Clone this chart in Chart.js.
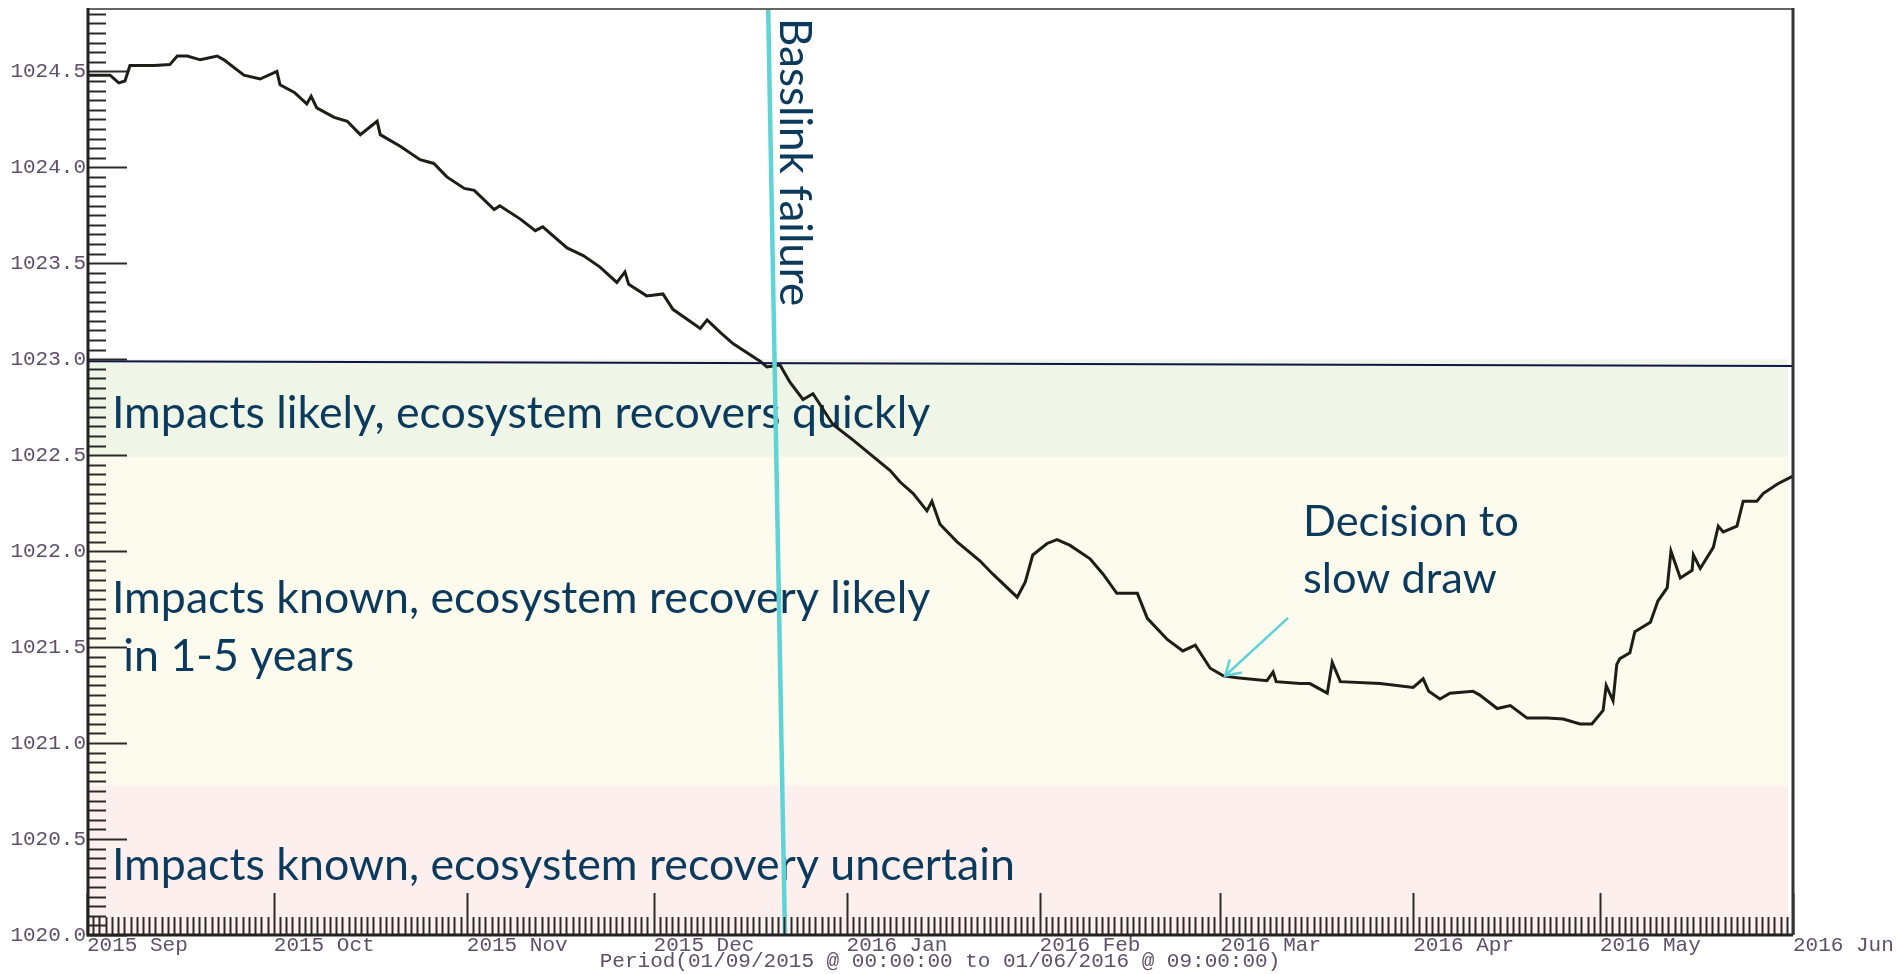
<!DOCTYPE html>
<html>
<head>
<meta charset="utf-8">
<title>Storage level 2015-2016</title>
<script src="https://cdn.jsdelivr.net/npm/chart.js@4.4.0/dist/chart.umd.min.js"></script>
<style>
  html, body { margin: 0; padding: 0; background: #fff; }
  canvas { display: block; }
</style>
</head>
<body>
<canvas id="levelChart" width="1901" height="974"></canvas>
<script>
// days since 01/09/2015 00:00 and lake level (m)
const dayOffsets = [
  0, 3.7, 5.1, 6.1, 6.9, 10.8, 13.3, 14.5, 16.1, 18.2,
  20.9, 22.0, 25.2, 27.8, 30.5, 31.0, 33.3, 35.3, 36.0, 36.9,
  39.7, 41.8, 43.9, 46.6, 47.1, 50.3, 53.5, 55.7, 57.8, 60.6,
  62.2, 65.4, 66.3, 69.6, 72.0, 73.2, 77.1, 79.7, 82.4, 85.1,
  86.4, 87.0, 89.9, 92.5, 94.1, 98.5, 99.6, 101.7, 103.8, 108.1,
  109.2, 111.3, 112.9, 115.0, 116.6, 119.8, 123.0, 129.0, 130.6, 132.7,
  134.9, 135.7, 137.0, 139.7, 143.4, 145.5, 149.4, 150.7, 151.9, 154.2,
  155.8, 157.9, 161.1, 163.2, 165.4, 168.7, 170.3, 173.5, 176.0, 178.0,
  180.4, 182.5, 184.7, 189.5, 190.5, 191.0, 194.8, 196.4, 199.2, 200.0,
  201.3, 207.7, 213.0, 214.6, 215.5, 217.3, 218.9, 222.6, 223.7, 226.5,
  228.6, 231.3, 234.5, 237.1, 239.8, 241.7, 243.5, 244.0, 245.1, 245.7,
  246.2, 247.8, 248.6, 251.1, 252.3, 253.8, 254.4, 255.9, 257.8, 258.0,
  259.1, 261.2, 262.0, 262.8, 265.0, 266.0, 268.2, 269.2, 271.5, 273.9
];
const levels = [
  1024.48, 1024.48, 1024.44, 1024.45, 1024.53, 1024.53, 1024.535, 1024.58, 1024.58, 1024.56,
  1024.58, 1024.56, 1024.48, 1024.46, 1024.50, 1024.43, 1024.39, 1024.33, 1024.37, 1024.31,
  1024.26, 1024.24, 1024.17, 1024.24, 1024.17, 1024.11, 1024.04, 1024.02, 1023.95, 1023.89,
  1023.88, 1023.78, 1023.80, 1023.73, 1023.67, 1023.69, 1023.58, 1023.54, 1023.48, 1023.40,
  1023.455, 1023.39, 1023.33, 1023.34, 1023.26, 1023.16, 1023.205, 1023.14, 1023.08, 1022.99,
  1022.96, 1022.97, 1022.88, 1022.79, 1022.82, 1022.66, 1022.58, 1022.42, 1022.36, 1022.30,
  1022.21, 1022.26, 1022.14, 1022.05, 1021.95, 1021.88, 1021.76, 1021.84, 1021.98, 1022.04,
  1022.06, 1022.03, 1021.96, 1021.88, 1021.78, 1021.78, 1021.65, 1021.54, 1021.48, 1021.51,
  1021.39, 1021.35, 1021.34, 1021.325, 1021.37, 1021.32, 1021.31, 1021.31, 1021.26, 1021.42,
  1021.32, 1021.31, 1021.29, 1021.335, 1021.27, 1021.23, 1021.26, 1021.27, 1021.25, 1021.18,
  1021.195, 1021.13, 1021.13, 1021.125, 1021.10, 1021.10, 1021.17, 1021.30, 1021.22, 1021.41,
  1021.44, 1021.47, 1021.58, 1021.63, 1021.74, 1021.81, 1022.00, 1021.86, 1021.90, 1021.98,
  1021.91, 1022.02, 1022.13, 1022.10, 1022.13, 1022.26, 1022.26, 1022.30, 1022.35, 1022.39
];

const monthStartDays = [0, 30, 61, 91, 122, 153, 182, 213, 243, 274];
const monthLabels = ['2015 Sep', '2015 Oct', '2015 Nov', '2015 Dec', '2016 Jan',
  '2016 Feb', '2016 Mar', '2016 Apr', '2016 May', '2016 Jun'];
const levelTickLabels = ['1020.0', '1020.5', '1021.0', '1021.5', '1022.0',
  '1022.5', '1023.0', '1023.5', '1024.0', '1024.5'];

// impact bands (top level, bottom level)
const bandTops = [1023.0, 1022.49, 1020.78];
const bandBottoms = [1022.49, 1020.78, 1020.0];
const bandNames = ['Impacts likely, ecosystem recovers quickly',
  'Impacts known, ecosystem recovery likely',
  'Impacts known, ecosystem recovery uncertain'];

// threshold line and Basslink failure marker
const thresholdDays = [0, 274];
const thresholdLevels = [1022.99, 1022.965];
const failureDays = [109.4, 112.1];
const failureLevels = [1024.83, 1020.0];

const MONO = '"Liberation Mono", "DejaVu Sans Mono", monospace';
const TEXT_FONT = 'Lato, "Open Sans", sans-serif';
const NOTE_COLOR = '#0b3a5c';
const CYAN = '#5fd4d6';

function toPoints(xs, ys) {
  return xs.map((d, i) => ({ x: d, y: ys[i] }));
}

const overlay = {
  id: 'overlay',
  beforeDatasetsDraw(chart) {
    const { ctx, chartArea: a, scales: { x, y } } = chart;
    ctx.save();

    // coloured bands
    const bandColors = ['#eff6e8', '#fdfbee', '#fcefee'];
    bandTops.forEach((top, i) => {
      const y0 = y.getPixelForValue(top);
      const y1 = y.getPixelForValue(bandBottoms[i]);
      ctx.fillStyle = bandColors[i];
      ctx.fillRect(a.left, y0, a.right - a.left - 5, y1 - y0);
    });

    // band captions
    ctx.fillStyle = NOTE_COLOR;
    ctx.font = '44.7px ' + TEXT_FONT;
    ctx.textAlign = 'left';
    ctx.textBaseline = 'alphabetic';
    ctx.fillText(bandNames[0], x.getPixelForValue(4.0), y.getPixelForValue(1022.64));
    ctx.fillText(bandNames[1], x.getPixelForValue(4.0), y.getPixelForValue(1021.678));
    ctx.fillText(' in 1-5 years', x.getPixelForValue(4.0), y.getPixelForValue(1021.377));
    ctx.fillText(bandNames[2], x.getPixelForValue(4.0), y.getPixelForValue(1020.286));

    // decision note
    ctx.font = '43.4px ' + TEXT_FONT;
    ctx.fillText('Decision to', x.getPixelForValue(195.3), y.getPixelForValue(1022.078));
    ctx.fillText('slow draw', x.getPixelForValue(195.3), y.getPixelForValue(1021.78));

    // vertical caption next to the failure line
    ctx.translate(x.getPixelForValue(111.3), a.top + 10);
    ctx.rotate(Math.PI / 2);
    ctx.font = '44px ' + TEXT_FONT;
    ctx.fillText('Basslink failure', 0, 0);
    ctx.restore();
  },
  afterDatasetsDraw(chart) {
    const { ctx, chartArea: a, scales: { x, y } } = chart;
    ctx.save();
    ctx.strokeStyle = '#2a2a2a';
    ctx.lineWidth = 2;

    // inward tick marks, long on the labelled values
    y.ticks.forEach(t => {
      const py = Math.round(y.getPixelForValue(t.value)) + 0.5;
      const major = Math.abs(t.value * 2 - Math.round(t.value * 2)) < 1e-6;
      ctx.beginPath();
      ctx.moveTo(a.left, py);
      ctx.lineTo(a.left + (major ? 40 : 19), py);
      ctx.stroke();
    });
    x.ticks.forEach(t => {
      const px = Math.round(x.getPixelForValue(t.value)) + 0.5;
      const major = monthStartDays.includes(t.value);
      ctx.beginPath();
      ctx.moveTo(px, a.bottom);
      ctx.lineTo(px, a.bottom - (major ? 42 : 18));
      ctx.stroke();
    });

    // frame
    ctx.strokeStyle = '#666';
    ctx.beginPath();
    ctx.moveTo(a.left, a.top + 1);
    ctx.lineTo(a.right, a.top + 1);
    ctx.stroke();
    ctx.strokeStyle = '#222';
    ctx.lineWidth = 3;
    ctx.beginPath();
    ctx.moveTo(a.left + 1, a.top);
    ctx.lineTo(a.left + 1, a.bottom);
    ctx.lineTo(a.right, a.bottom);
    ctx.stroke();
    ctx.strokeStyle = '#333';
    ctx.beginPath();
    ctx.moveTo(a.right, a.top);
    ctx.lineTo(a.right, a.bottom);
    ctx.stroke();

    // arrow to the decision point
    const x0 = x.getPixelForValue(192.9), y0 = y.getPixelForValue(1021.652);
    const x1 = x.getPixelForValue(182.8), y1 = y.getPixelForValue(1021.351);
    const ang = Math.atan2(y1 - y0, x1 - x0);
    ctx.strokeStyle = CYAN;
    ctx.lineWidth = 2.5;
    ctx.beginPath();
    ctx.moveTo(x0, y0);
    ctx.lineTo(x1, y1);
    ctx.moveTo(x1 - 17 * Math.cos(ang - 0.55), y1 - 17 * Math.sin(ang - 0.55));
    ctx.lineTo(x1, y1);
    ctx.lineTo(x1 - 17 * Math.cos(ang + 0.55), y1 - 17 * Math.sin(ang + 0.55));
    ctx.stroke();
    ctx.restore();
  }
};

const ctx = document.getElementById('levelChart').getContext('2d');
new Chart(ctx, {
  type: 'line',
  data: {
    datasets: [
      {
        label: 'Basslink failure',
        data: toPoints(failureDays, failureLevels),
        borderColor: CYAN,
        borderWidth: 4.5,
        pointRadius: 0,
        order: 0
      },
      {
        label: 'Threshold',
        data: toPoints(thresholdDays, thresholdLevels),
        borderColor: '#0e1546',
        borderWidth: 2,
        pointRadius: 0,
        order: 1
      },
      {
        label: 'Lake level (m)',
        data: toPoints(dayOffsets, levels),
        borderColor: '#1e1e18',
        borderWidth: 3,
        pointRadius: 0,
        tension: 0,
        order: 2
      }
    ]
  },
  options: {
    responsive: false,
    animation: false,
    events: [],
    layout: { padding: { top: 8, right: 108, left: 0, bottom: 0 } },
    plugins: { legend: { display: false }, tooltip: { enabled: false } },
    scales: {
      x: {
        type: 'linear',
        min: 0,
        max: 274,
        border: { display: false },
        grid: { display: false, drawTicks: false },
        afterBuildTicks: scale => {
          const ticks = [];
          for (let d = 0; d <= 274; d++) ticks.push({ value: d });
          scale.ticks = ticks;
        },
        afterFit: scale => {
          scale.height = 39;
          scale.paddingLeft = 0;
          scale.paddingRight = 0;
        },
        ticks: {
          autoSkip: false,
          maxRotation: 0,
          align: 'start',
          padding: -2,
          color: '#5e5068',
          font: { family: MONO, size: 21 },
          callback: value => {
            const i = monthStartDays.indexOf(value);
            return i >= 0 ? monthLabels[i] : '';
          }
        },
        title: {
          display: true,
          text: 'Period(01/09/2015 @ 00:00:00 to 01/06/2016 @ 09:00:00)',
          color: '#5e5068',
          font: { family: MONO, size: 21 },
          padding: { top: 0, bottom: 0 }
        }
      },
      y: {
        type: 'linear',
        min: 1020,
        max: 1024.83,
        border: { display: false },
        grid: { display: false, drawTicks: false },
        afterBuildTicks: scale => {
          const ticks = [];
          for (let k = 0; k <= 96; k++) ticks.push({ value: Math.round((1020 + k * 0.05) * 100) / 100 });
          scale.ticks = ticks;
        },
        afterFit: scale => {
          scale.width = 87;
          scale.paddingTop = 0;
          scale.paddingBottom = 0;
        },
        ticks: {
          autoSkip: false,
          padding: 1,
          color: '#5e5068',
          font: { family: MONO, size: 21 },
          callback: value => {
            const lbl = levelTickLabels.find(l => Math.abs(Number(l) - value) < 1e-6);
            return lbl || '';
          }
        }
      }
    }
  },
  plugins: [overlay]
});
</script>
</body>
</html>
